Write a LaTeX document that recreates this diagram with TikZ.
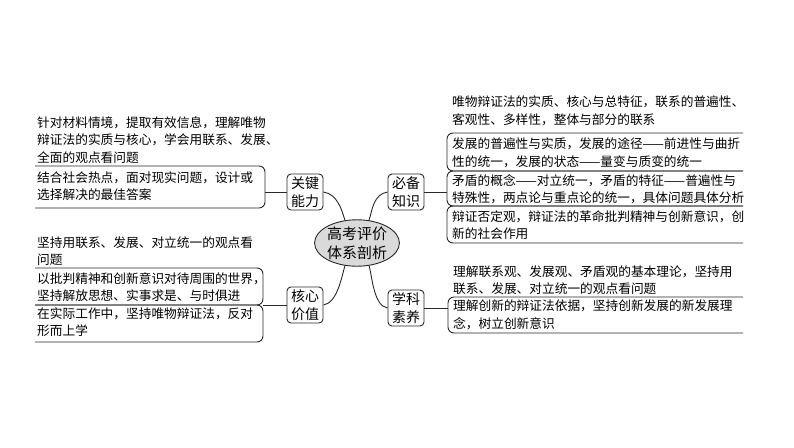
\documentclass[tikz,border=0pt]{standalone}
\usepackage{fontspec}
\setmainfont{Noto Sans CJK SC}
\usetikzlibrary{shapes.geometric}
\definecolor{linec}{RGB}{40,40,40}
\definecolor{ellfill}{RGB}{218,218,218}
\begin{document}
\begin{tikzpicture}[x=1pt,y=-1pt,
  txt/.style={anchor=west, align=left, inner sep=0pt, font=\fontsize{12.7}{17.5}\selectfont},
  cat/.style={draw=linec, line width=0.9pt, rounded corners=4pt, align=center, inner sep=1pt,
              font=\fontsize{14}{18}\selectfont, minimum width=36pt, minimum height=36pt},
  br/.style={draw=linec, line width=0.9pt, rounded corners=6pt},
  conn/.style={draw=linec, line width=0.9pt}]
\useasboundingbox (0,0) rectangle (794,447);

% central ellipse
\node[ellipse, draw=linec, line width=0.9pt, fill=ellfill, minimum width=78pt, minimum height=46pt,
      inner sep=0pt, align=center, font=\fontsize{15}{19}\selectfont] (ell) at (357,243) {高考评价\\体系剖析};

% category boxes
\node[cat] (kn) at (305,192) {关键\\能力};
\node[cat] (bb) at (406,192) {必备\\知识};
\node[cat] (hx) at (305,305) {核心\\价值};
\node[cat] (xk) at (406,308) {学科\\素养};

% curved links
\draw[conn] (kn.east) .. controls +(14,2) and +(-3,-10) .. (ell.118);
\draw[conn] (bb.west) .. controls +(-14,2) and +(3,-10) .. (ell.62);
\draw[conn] (hx.east) .. controls +(14,-2) and +(-3,10) .. (ell.242);
\draw[conn] (xk.west) .. controls +(-14,-2) and +(3,10) .. (ell.298);

% ---------- left upper (关键能力)
\node[txt] (a1) at (37,140) {针对材料情境，提取有效信息，理解唯物\\辩证法的实质与核心，学会用联系、发展、\\全面的观点看问题};
\node[txt] (a2) at (37,186) {结合社会热点，面对现实问题，设计或\\选择解决的最佳答案};
\draw[br] (35,166) -- (265,166) -- (265,208) -- (35,208);
\coordinate (ka) at (265,192);
\draw[conn] (kn.west) -- (ka);

% ---------- left lower (核心价值)
\node[txt] (b1) at (37,251) {坚持用联系、发展、对立统一的观点看\\问题};
\node[txt] (b2) at (37,287) {以批判精神和创新意识对待周围的世界，\\坚持解放思想、实事求是、与时俱进};
\node[txt] (b3) at (37,322) {在实际工作中，坚持唯物辩证法，反对\\形而上学};
\draw[br] (35,268) -- (263,268) -- (263,305) -- (35,305);
\draw[br] (35,305) -- (263,305) -- (263,342) -- (35,342);
\coordinate (ha) at (263,305);
\draw[conn] (hx.west) -- (ha);

% ---------- right upper (必备知识)
\node[txt] (c1) at (452,111) {唯物辩证法的实质、核心与总特征，联系的普遍性、\\客观性、多样性，整体与部分的联系};
\node[txt] (c2) at (452,153) {发展的普遍性与实质，发展的途径——前进性与曲折\\性的统一，发展的状态——量变与质变的统一};
\node[txt] (c3) at (452,189) {矛盾的概念——对立统一，矛盾的特征——普遍性与\\特殊性，两点论与重点论的统一，具体问题具体分析};
\node[txt] (c4) at (452,225) {辩证否定观，辩证法的革命批判精神与创新意识，创\\新的社会作用};
\draw[br] (743,133) -- (447,133) -- (447,171) -- (743,171);
\draw[br] (743,171) -- (447,171) -- (447,206) -- (743,206);
\draw[br] (743,206) -- (447,206) -- (447,243) -- (743,243);
\coordinate (ba) at (447,192);
\draw[conn] (bb.east) -- (ba);

% ---------- right lower (学科素养)
\node[txt] (d1) at (453,280) {理解联系观、发展观、矛盾观的基本理论，坚持用\\联系、发展、对立统一的观点看问题};
\node[txt] (d2) at (453,315) {理解创新的辩证法依据，坚持创新发展的新发展理\\念，树立创新意识};
\draw[br] (743,297) -- (448,297) -- (448,333) -- (743,333);
\coordinate (xa) at (448,308);
\draw[conn] (xk.east) -- (xa);
\end{tikzpicture}
\end{document}
